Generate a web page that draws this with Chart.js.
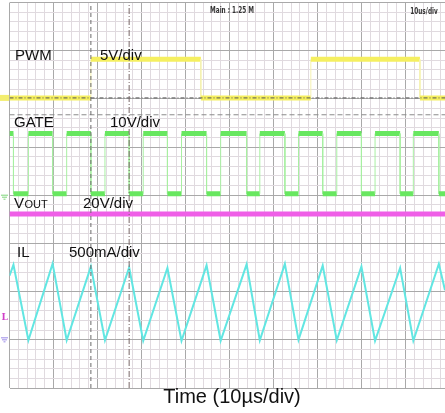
<!DOCTYPE html>
<html>
<head>
<meta charset="utf-8">
<script src="https://cdn.jsdelivr.net/npm/chart.js@4.4.1/dist/chart.umd.min.js"></script>
<style>
html, body { margin: 0; padding: 0; background: #fff; }
canvas { display: block; }
</style>
</head>
<body>
<canvas id="scope" width="445" height="413"></canvas>
<script>
// scope capture: 10 us/div on x, 8 divisions on y
const channelNames = ['PWM', 'GATE', 'V', 'IL'];
const channelScales = ['5V/div', '10V/div', '20V/div', '500mA/div'];
const timebaseText = 'Time (10µs/div)';
const headerText = ['Main : 1.25 M', '10us/div'];

// ground marker of each channel (div) and units per div
const groundDiv = [6.02, 3.97, 1.45, 1.01];
const unitsPerDiv = [5, 10, 20, 500];

// PWM (V)
const pwmEdgesUs = [18.5, 43.5, 68.5, 93.3];
const pwmLevelsV = [0, 4.0];

// gate drive (V)
const gateFallUs = [0.9, 9.8, 18.5, 27.2, 35.9, 44.8, 53.9, 62.6, 71.2, 80.0, 88.8, 97.6];
const gateRiseUs = [4.3, 13.0, 21.7, 30.4, 39.1, 48.0, 56.9, 65.7, 74.4, 83.1, 91.8];
const gateLevelsV = [0.6, 13.1];

// output voltage (V)
const voutTimesUs = [0, 99];
const voutVolts = [43.2, 43.2];

// inductor current (mA)
const ilTimesUs = [0, 0.9, 4.3, 9.8, 13.0, 18.5, 21.7, 27.2, 30.4, 35.9, 39.1, 44.8, 48.0,
  53.9, 56.9, 62.6, 65.7, 71.2, 74.4, 80.0, 83.1, 88.8, 91.8, 97.6, 99];
const ilMilliamps = [660, 773, -10, 785, -10, 755, -10, 745, -15, 740, -15, 768, -15,
  778, -10, 783, -5, 765, -10, 755, -15, 740, -15, 783, 510];

// cursors
const cursorTimesUs = [18.5, 27.2];
const refLevelsDiv = [5.67, 6.02];

const T_END = 99;

function toDiv(ch, v) {
  return groundDiv[ch] + v / unitsPerDiv[ch];
}

// square wave from edge times
function stepPoints(ch, edges, startHigh, levels) {
  let high = startHigh;
  const pts = [{x: 0, y: toDiv(ch, levels[high ? 1 : 0])}];
  edges.forEach(t => {
    pts.push({x: t, y: toDiv(ch, levels[high ? 1 : 0])});
    high = !high;
    pts.push({x: t, y: toDiv(ch, levels[high ? 1 : 0])});
  });
  pts.push({x: T_END, y: toDiv(ch, levels[high ? 1 : 0])});
  return pts;
}

const gateEdges = gateFallUs.concat(gateRiseUs).sort((a, b) => a - b);

function trace(data, color, edgeColor, width) {
  return {
    data: data,
    borderColor: color,
    borderWidth: width,
    pointRadius: 0,
    tension: 0,
    order: 2,
    segment: {
      borderWidth: c => c.p0.parsed.x === c.p1.parsed.x ? 1 : width,
      borderColor: c => c.p0.parsed.x === c.p1.parsed.x ? edgeColor : color
    }
  };
}

function cursor(data, color, dash) {
  return {
    data: data,
    borderColor: color,
    borderWidth: 1,
    borderDash: dash,
    pointRadius: 0,
    order: 0
  };
}

const isMajor = v => Math.abs(v - Math.round(v)) < 1e-6;

const textPlugin = {
  id: 'scopeText',
  afterDatasetsDraw(chart) {
    const c = chart.ctx;
    const ys = chart.scales.y;
    const py = d => ys.getPixelForValue(d);
    c.save();

    // ground markers left of the grid
    c.fillStyle = '#f3ee70';
    c.fillRect(0, py(groundDiv[0]) - 3, 9, 6);
    c.strokeStyle = '#7fd67a';
    c.lineWidth = 1;
    let gy = py(groundDiv[1]);
    c.beginPath(); c.moveTo(1, gy - 1.5); c.lineTo(8, gy - 1.5);
    c.moveTo(2, gy + 0.5); c.lineTo(7, gy + 0.5); c.moveTo(3.5, gy + 2.5); c.lineTo(5.5, gy + 2.5); c.stroke();
    c.fillStyle = '#d040c8';
    c.font = 'bold 9px "DejaVu Serif", serif';
    c.textBaseline = 'middle';
    c.fillText('L', 1.5, py(groundDiv[2]));
    c.strokeStyle = '#9a8ae8';
    gy = py(groundDiv[3]);
    c.beginPath(); c.moveTo(1, gy - 1.5); c.lineTo(8, gy - 1.5);
    c.moveTo(2, gy + 0.5); c.lineTo(7, gy + 0.5); c.moveTo(3.5, gy + 2.5); c.lineTo(5.5, gy + 2.5); c.stroke();

    // channel labels
    c.fillStyle = '#111';
    c.textBaseline = 'alphabetic';
    c.font = '15px "Liberation Sans", Arial, sans-serif';
    c.fillText(channelNames[0], 15, 60);
    c.fillText(channelScales[0], 100, 60);
    c.fillText(channelNames[1], 14, 127);
    c.fillText(channelScales[1], 110, 127);
    c.fillText(channelNames[2], 14, 208);
    c.fillText(channelScales[2], 83, 208);
    c.fillText(channelNames[3], 17, 257);
    c.fillText(channelScales[3], 69, 257);
    c.font = '11px "Liberation Sans", Arial, sans-serif';
    c.fillText('OUT', 24.5, 208);

    // timebase
    c.font = '20px "Liberation Sans", Arial, sans-serif';
    c.textAlign = 'center';
    c.fillText(timebaseText, 232, 403);

    // scope header
    c.fillStyle = '#333';
    c.font = 'bold 8px "DejaVu Sans", sans-serif';
    c.save(); c.translate(232, 13); c.scale(0.72, 1); c.fillText(headerText[0], 0, 0); c.restore();
    c.save(); c.translate(424, 14); c.scale(0.72, 1); c.fillText(headerText[1], 0, 0); c.restore();
    c.restore();
  }
};

new Chart(document.getElementById('scope'), {
  type: 'line',
  data: {
    datasets: [
      cursor(cursorTimesUs.slice(0, 1).flatMap(t => [{x: t, y: 0}, {x: t, y: 8}]), '#6a6a6a', [4, 3]),
      cursor(cursorTimesUs.slice(1).flatMap(t => [{x: t, y: 0}, {x: t, y: 8}]), '#7a6868', [6, 2, 1, 2]),
      cursor([{x: 0, y: refLevelsDiv[0]}, {x: T_END, y: refLevelsDiv[0]}], '#8a8a8a', [5, 3]),
      cursor([{x: 0, y: refLevelsDiv[1]}, {x: T_END, y: refLevelsDiv[1]}], '#555555', [4, 2, 1, 2]),
      trace(stepPoints(0, pwmEdgesUs, false, pwmLevelsV), '#f5ef60', '#f5f2b0', 5),
      trace(stepPoints(1, gateEdges, true, gateLevelsV), '#68e760', '#a8efa2', 5),
      trace(voutTimesUs.map((t, i) => ({x: t, y: toDiv(2, voutVolts[i])})), '#ef5fe7', '#ef5fe7', 5),
      trace(ilTimesUs.map((t, i) => ({x: t, y: toDiv(3, ilMilliamps[i])})), '#62e6e2', '#62e6e2', 2)
    ]
  },
  options: {
    responsive: false,
    animation: false,
    events: [],
    layout: { padding: { left: 9.5, top: 2.5, right: 0, bottom: 25 } },
    plugins: { legend: { display: false }, tooltip: { enabled: false } },
    scales: {
      x: {
        type: 'linear',
        min: 0,
        max: T_END,
        ticks: { display: false, stepSize: 2, autoSkip: false, includeBounds: false },
        border: { display: false },
        grid: {
          drawTicks: false,
          color: c => isMajor(c.tick.value / 10) ? '#a9a9a9' : '#e0dadf',
          lineWidth: 1
        }
      },
      y: {
        type: 'linear',
        min: 0,
        max: 8,
        ticks: { display: false, stepSize: 0.2, autoSkip: false },
        border: { display: false },
        grid: {
          drawTicks: false,
          color: c => isMajor(c.tick.value) ? '#a9a9a9' : '#e0dadf',
          lineWidth: 1
        }
      }
    }
  },
  plugins: [textPlugin]
});
</script>
</body>
</html>
